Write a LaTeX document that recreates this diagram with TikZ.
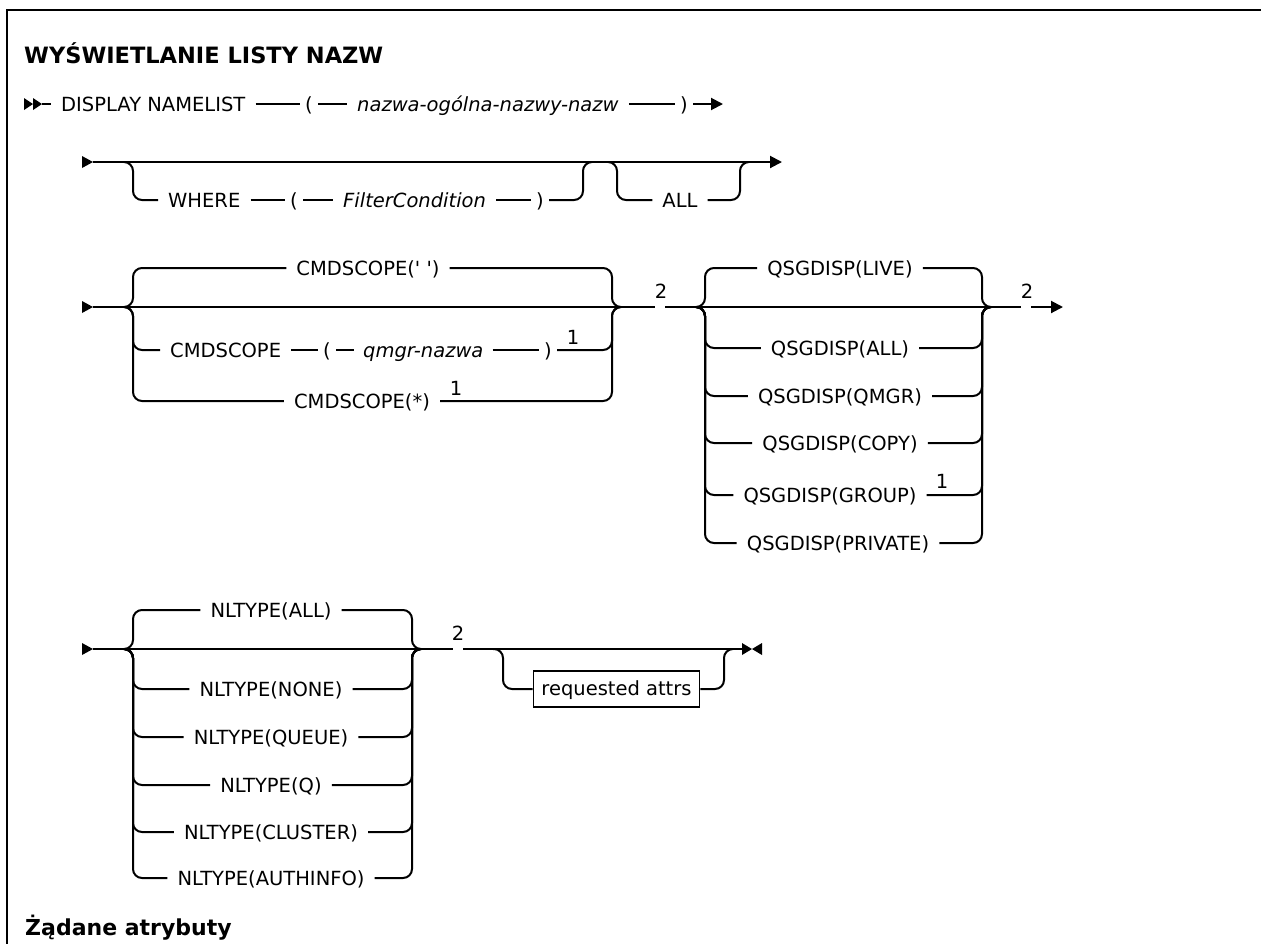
\documentclass[tikz,border=0pt]{standalone}
\usepackage{fontspec}
\setmainfont{DejaVu Sans}
\usetikzlibrary{arrows.meta}
\begin{document}
\begin{tikzpicture}[x=1pt,y=-1pt,
  rail/.style={line width=2pt},
  brace/.style={rail, rounded corners=9pt},
  kw/.style={inner xsep=10pt, inner ysep=0pt, text height=17pt, text depth=2.8pt,
             font=\fontsize{19.5}{22}\selectfont},
  var/.style={kw, font=\fontsize{19.5}{22}\selectfont\itshape},
  par/.style={kw, inner xsep=5pt},
  gapnode/.style={inner sep=0pt, minimum width=10pt, minimum height=2pt},
  note/.style={inner sep=0pt, font=\fontsize{19.5}{22}\selectfont},
  head/.style={anchor=base west, inner sep=0pt, font=\fontsize{22.5}{26}\selectfont\bfseries},
  attrbox/.style={draw, line width=1.6pt, inner xsep=8pt, inner ysep=0pt,
                  text height=17pt, text depth=4pt, minimum height=36pt,
                  font=\fontsize{19.5}{22}\selectfont},
  tip/.style={-{Triangle[length=12pt,width=12pt]}}
]
\useasboundingbox (0,0) rectangle (1261,943);

% outer frame
\draw[line width=2.6pt] (7,960) -- (7,10) -- (1280,10);

% heading
\node[head] (title) at (24,63) {WYŚWIETLANIE LISTY NAZW};

% ---------- row 1: command name ----------
\fill (24,98) -- (33,104) -- (24,110) -- cycle;
\fill (33,98) -- (42,104) -- (33,110) -- cycle;
\coordinate (r1s) at (42,104);
\node[kw,anchor=west]  (disp)  at (51,104)  {DISPLAY NAMELIST};
\node[par,anchor=west] (lp1)   at (300,104) {(};
\node[var,anchor=west] (gname) at (347,104) {nazwa-ogólna-nazwy-nazw};
\node[par,anchor=west] (rp1)   at (675,104) {)};
\coordinate (r1e) at (723,104);
\draw[rail] (r1s) -- (disp);
\draw[rail] (disp) -- (lp1);
\draw[rail] (lp1) -- (gname);
\draw[rail] (gname) -- (rp1);
\draw[rail,tip] (rp1) -- (r1e);

% ---------- row 2: WHERE / ALL ----------
\fill (82,156) -- (93,162) -- (82,168) -- cycle;
\coordinate (r2s) at (93,162);
\coordinate (r2e) at (782,162);
\draw[rail,tip] (r2s) -- (r2e);

\coordinate (w1) at (124,162);
\coordinate (w2) at (592,162);
\node[kw,anchor=west]  (where) at (158,200) {WHERE};
\node[par,anchor=west] (lp2)   at (285,200) {(};
\node[var,anchor=west] (filt)  at (333,200) {FilterCondition};
\node[par,anchor=west] (rp2)   at (531,200) {)};
\draw[brace] (w1) -| (133,200) -- (where);
\draw[rail] (where) -- (lp2);
\draw[rail] (lp2) -- (filt);
\draw[rail] (filt) -- (rp2);
\draw[brace] (rp2) -- (583,200) |- (w2);

\coordinate (a1) at (609,162);
\coordinate (a2) at (748,162);
\node[kw] (allw) at (680,200) {ALL};
\draw[brace] (a1) -| (617,200) -- (allw);
\draw[brace] (allw) -- (740,200) |- (a2);

% ---------- row 3: CMDSCOPE / QSGDISP ----------
\fill (82,301) -- (93,307) -- (82,313) -- cycle;
\coordinate (r3s) at (93,307);
\coordinate (c1) at (124,307);
\coordinate (c2) at (621,307);
\coordinate (q1) at (697,307);
\coordinate (q2) at (990,307);
\coordinate (r3e) at (1063,307);
\node[gapnode] (g3a) at (660,307) {};
\node[note] (fn3a) at (661,291) {2};
\node[gapnode] (g3b) at (1026,307) {};
\node[note] (fn3b) at (1027,291) {2};
\draw[rail] (r3s) -- (g3a);
\draw[rail] (g3a) -- (g3b);
\draw[rail,tip] (g3b) -- (r3e);

% CMDSCOPE choices
\node[kw] (cs1) at (368,268) {CMDSCOPE(\textquotesingle\ \textquotesingle)};
\draw[brace] (c1) -| (133,268) -- (cs1);
\draw[brace] (cs1) -- (612,268) |- (c2);

\node[kw,anchor=west]  (cs2) at (160,350) {CMDSCOPE};
\node[par,anchor=west] (lp3) at (318,350) {(};
\node[var,anchor=west,inner xsep=9pt] (qm) at (354,350) {qmgr-nazwa};
\node[par,anchor=west] (rp3) at (539,350) {)};
\node[note] (fn1a) at (573,337) {1};
\draw[brace] (c1) -| (133,350) -- (cs2);
\draw[rail] (cs2) -- (lp3);
\draw[rail] (lp3) -- (qm);
\draw[rail] (qm) -- (rp3);
\draw[brace] (rp3) -- (612,350) |- (c2);

\node[kw] (cs3) at (362,401) {CMDSCOPE(*)};
\node[note] (fn1b) at (456,388) {1};
\draw[brace] (c1) -| (133,401) -- (cs3);
\draw[brace] (cs3) -- (612,401) |- (c2);

% QSGDISP choices
\node[kw] (qs1) at (840,268) {QSGDISP(LIVE)};
\node[kw] (qs2) at (840,348) {QSGDISP(ALL)};
\node[kw] (qs3) at (840,396) {QSGDISP(QMGR)};
\node[kw] (qs4) at (840,443) {QSGDISP(COPY)};
\node[kw] (qs5) at (830,495) {QSGDISP(GROUP)};
\node[kw] (qs6) at (838,543) {QSGDISP(PRIVATE)};
\node[note] (fn1c) at (942,481) {1};
\foreach \n/\y in {qs1/268,qs2/348,qs3/396,qs4/443,qs5/495,qs6/543}{
  \draw[brace] (q1) -| (705,\y) -- (\n);
  \draw[brace] (\n) -- (982,\y) |- (q2);
}

% ---------- row 4: NLTYPE / requested attrs ----------
\fill (82,643) -- (93,649) -- (82,655) -- cycle;
\coordinate (r4s) at (93,649);
\coordinate (t1) at (124,649);
\coordinate (t2) at (421,649);
\node[gapnode] (g4) at (458,649) {};
\node[note] (fn4) at (458,633) {2};
\coordinate (o1) at (493,649);
\coordinate (o2) at (733,649);
\coordinate (r4e) at (743,649);
\draw[rail] (r4s) -- (g4);
\draw[rail] (g4) -- (r4e);

\foreach \n/\y/\t in {nt1/610/ALL,nt2/689/NONE,nt3/737/QUEUE,nt4/785/Q,nt5/832/CLUSTER,nt6/878/AUTHINFO}{
  \node[kw] (\n) at (271,\y) {NLTYPE(\t)};
  \draw[brace] (t1) -| (133,\y) -- (\n);
  \draw[brace] (\n) -- (412,\y) |- (t2);
}

\node[attrbox] (req) at (616.5,689) {requested attrs};
\draw[brace] (o1) -| (503,689) -- (req);
\draw[brace] (req) -- (724,689) |- (o2);

% end of statement
\fill (742,643) -- (752,649) -- (742,655) -- cycle;
\fill (762,643) -- (752,649) -- (762,655) -- cycle;

% sub-heading
\node[head, font=\fontsize{22}{26}\selectfont\bfseries] (sub) at (25,935) {Żądane atrybuty};
\end{tikzpicture}
\end{document}
